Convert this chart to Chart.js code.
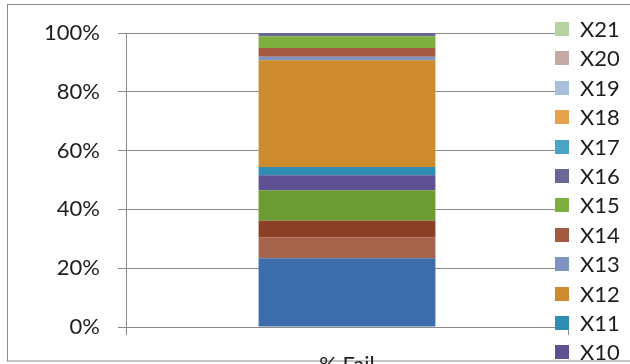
<!DOCTYPE html>
<html>
<head>
<meta charset="utf-8">
<title>% Fail</title>
<script src="https://cdn.jsdelivr.net/npm/chart.js@4/dist/chart.umd.min.js"></script>
<style>
  html, body { margin: 0; padding: 0; background: #fff; }
  #wrap { width: 630px; height: 364px; overflow: hidden; position: relative; }
  canvas { display: block; }
</style>
</head>
<body>
<div id="wrap"><canvas id="failChart" width="630" height="400"></canvas></div>
<script>
// Categories, series and values
const categories = ["% Fail"];
const seriesNames = ["X1", "X2", "X3", "X4", "X5", "X6", "X7", "X8", "X9", "X10", "X11",
                     "X12", "X13", "X14", "X15", "X16", "X17", "X18", "X19", "X20", "X21"];
const failShares = [23.4, 7.1, 0, 0, 0, 0, 0, 5.6, 10.4, 5.1, 2.8,
                    36.3, 1.2, 3.0, 4.0, 1.1, 0, 0, 0, 0, 0];
const seriesColors = ["#3d6cab", "#a5634c", "#6c9a34", "#5c4b8e", "#2b8ab0", "#cc8a2c", "#2f4f7a",
                      "#8b3f24", "#6b9b33", "#5f5093", "#2f8db4", "#cd8b2e", "#7f93c2", "#a45a42",
                      "#7cae40", "#6a6796", "#4ba3c6", "#e9a24c", "#a8c0de", "#c4aaa4", "#b6d4a2"];
const yTicks = [0, 20, 40, 60, 80, 100];

const FONT = "Lato, 'Noto Sans', sans-serif";

// Outer frame around the whole chart
const framePlugin = {
    id: "frame",
    beforeDraw(chart) {
        const ctx = chart.ctx;
        ctx.save();
        ctx.strokeStyle = "#8a8a8a";
        ctx.lineWidth = 1;
        ctx.strokeRect(7.5, 4.5, 660, 356.5);
        ctx.restore();
    }
};

// Legend on the right, last series first, drawn over the plot edge
const sideLegend = {
    id: "sideLegend",
    afterDraw(chart) {
        const ctx = chart.ctx;
        const sets = chart.data.datasets;
        ctx.save();
        ctx.font = "22px " + FONT;
        ctx.textBaseline = "middle";
        ctx.textAlign = "left";
        for (let i = sets.length - 1; i >= 0; i--) {
            const yc = 29 + (sets.length - 1 - i) * 29.4;
            ctx.fillStyle = sets[i].backgroundColor;
            ctx.fillRect(555, Math.round(yc - 7), 14, 14);
            ctx.fillStyle = "#1e1e1e";
            ctx.fillText(sets[i].label, 580, yc + 1);
        }
        ctx.restore();
    }
};

const datasets = seriesNames.map((name, i) => ({
    label: name,
    data: [failShares[i]],
    backgroundColor: seriesColors[i],
    borderWidth: 0,
    barPercentage: 1,
    categoryPercentage: 0.4
}));

const ctx = document.getElementById("failChart").getContext("2d");
const chart = new Chart(ctx, {
    type: "bar",
    data: {
        labels: categories,
        datasets: datasets
    },
    options: {
        responsive: false,
        animation: false,
        layout: { padding: { top: 33, right: 62, left: 0, bottom: 0 } },
        plugins: {
            legend: { display: false },
            tooltip: { enabled: false }
        },
        scales: {
            x: {
                stacked: true,
                offset: true,
                grid: {
                    display: true,
                    offset: true,
                    drawOnChartArea: false,
                    drawTicks: true,
                    tickLength: 8,
                    color: "#8a8a8a"
                },
                border: { display: true, color: "#8a8a8a" },
                ticks: {
                    padding: 17,
                    color: "#1e1e1e",
                    font: { family: FONT, size: 22 }
                },
                afterFit(scale) { scale.height = 73; }
            },
            y: {
                stacked: true,
                min: 0,
                max: 100,
                grid: {
                    color: "#8a8a8a",
                    lineWidth: 1,
                    tickLength: 8
                },
                border: { display: true, color: "#8a8a8a" },
                ticks: {
                    padding: 18,
                    color: "#1e1e1e",
                    font: { family: FONT, size: 22 },
                    callback: (v) => v + "%"
                },
                afterBuildTicks(scale) {
                    scale.ticks = yTicks.map(v => ({ value: v }));
                },
                afterFit(scale) { scale.width = 126; }
            }
        }
    },
    plugins: [framePlugin, sideLegend]
});
</script>
</body>
</html>
